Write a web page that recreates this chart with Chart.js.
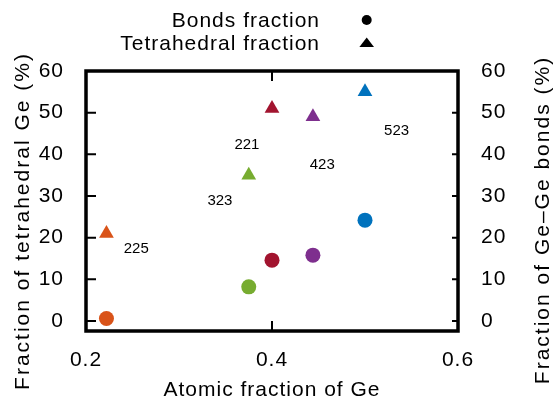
<!DOCTYPE html>
<html lang="en">

<head>
    <meta charset="UTF-8">
    <meta name="viewport" content="width=device-width, initial-scale=1.0">
    <title>Fração de Ge</title>
    <script src="https://cdn.jsdelivr.net/npm/chart.js"></script>
    <style>
        html, body { margin: 0; padding: 0; background: #fff; }
    </style>
</head>

<body>
    <canvas id="myChart" width="555" height="403"></canvas>
</body>
<script>
    // composições GeSbTe e valores
    const compositions = ['225', '323', '221', '423', '523']
    const geFraction = [0.222, 0.375, 0.4, 0.444, 0.5]
    const bondsFraction = [0.6, 8.2, 14.6, 15.8, 24.2]
    const tetraFraction = [21.0, 35.0, 51.0, 49.0, 55.0]
    // onde ficam os nomes das composições (em unidades dos eixos)
    const labelX = [0.254, 0.344, 0.373, 0.454, 0.534]
    const labelY = [17.3, 28.9, 42.3, 37.4, 45.7]
    const xTicks = [0.2, 0.4, 0.6]
    const yTicks = [0, 10, 20, 30, 40, 50, 60]

    const cores = ['#D95319', '#77AC30', '#A2142F', '#7E2F8E', '#0072BD']
    const fonte = "'Liberation Sans', Arial, sans-serif"

    function pontos(valores) {
        return geFraction.map((x, i) => ({ x: x, y: valores[i] }))
    }

    // moldura, ticks para dentro, rótulos, legenda e títulos dos eixos y
    const moldura = {
        id: 'moldura',
        beforeDraw(chart) {
            chart.ctx.letterSpacing = '1px'
        },
        afterDraw(chart) {
            const ctx = chart.ctx
            const a = chart.chartArea
            const sx = chart.scales.x
            const sy = chart.scales.y
            ctx.save()
            ctx.strokeStyle = '#000'
            ctx.fillStyle = '#000'

            ctx.lineWidth = 2
            ctx.beginPath()
            yTicks.forEach(v => {
                const py = sy.getPixelForValue(v)
                ctx.moveTo(a.left, py); ctx.lineTo(a.left + 10, py)
                ctx.moveTo(a.right, py); ctx.lineTo(a.right - 6, py)
            })
            xTicks.forEach(v => {
                const px = sx.getPixelForValue(v)
                ctx.moveTo(px, a.bottom); ctx.lineTo(px, a.bottom - 10)
                ctx.moveTo(px, a.top); ctx.lineTo(px, a.top + 10)
            })
            ctx.stroke()
            ctx.lineWidth = 3.5
            ctx.strokeRect(a.left, a.top, a.right - a.left, a.bottom - a.top)

            ctx.letterSpacing = '0px'
            ctx.font = '15px ' + fonte
            ctx.textAlign = 'center'
            ctx.textBaseline = 'middle'
            compositions.forEach((c, i) => {
                ctx.fillText(c, sx.getPixelForValue(labelX[i]), sy.getPixelForValue(labelY[i]))
            })

            // legenda
            ctx.letterSpacing = '1px'
            ctx.font = '21px ' + fonte
            ctx.textAlign = 'right'
            ctx.fillText(chart.data.datasets[0].label, 320, 21)
            ctx.fillText(chart.data.datasets[1].label, 320, 44)
            ctx.beginPath()
            ctx.arc(366.7, 20, 5, 0, Math.PI * 2)
            ctx.fill()
            ctx.beginPath()
            ctx.moveTo(366.7, 37.5)
            ctx.lineTo(374, 47)
            ctx.lineTo(359.4, 47)
            ctx.closePath()
            ctx.fill()

            // títulos y (lidos de baixo para cima, como no original)
            ctx.letterSpacing = '2px'
            ctx.textAlign = 'center'
            ctx.save()
            ctx.translate(23, 221)
            ctx.rotate(-Math.PI / 2)
            ctx.fillText('Fraction of tetrahedral Ge (%)', 0, 0)
            ctx.restore()
            ctx.save()
            ctx.translate(543, 220)
            ctx.rotate(-Math.PI / 2)
            ctx.fillText('Fraction of Ge\u2013Ge bonds (%)', 0, 0)
            ctx.restore()

            ctx.restore()
        }
    }

    function eixoY(posicao, largura, pad) {
        return {
            type: 'linear',
            position: posicao,
            min: -2.4,
            max: 60,
            afterBuildTicks: s => { s.ticks = yTicks.map(v => ({ value: v })) },
            afterFit: s => { s.width = largura },
            grid: { display: false },
            border: { display: false },
            ticks: { color: '#000', font: { family: fonte, size: 21 }, padding: pad, autoSkip: false }
        }
    }

    const config = {
        type: 'scatter',
        data: {
            datasets: [{
                label: 'Bonds fraction',
                data: pontos(bondsFraction),
                yAxisID: 'y2',
                pointStyle: 'circle',
                pointRadius: 7.5,
                pointHoverRadius: 7.5,
                backgroundColor: cores,
                borderWidth: 0
            }, {
                label: 'Tetrahedral fraction',
                data: pontos(tetraFraction),
                yAxisID: 'y',
                pointStyle: 'triangle',
                pointRadius: 8.5,
                pointHoverRadius: 8.5,
                backgroundColor: cores,
                borderWidth: 0
            }]
        },
        options: {
            responsive: false,
            animation: false,
            events: [],
            layout: { padding: { top: 71, left: 0, right: 0, bottom: 0 } },
            plugins: {
                legend: { display: false },
                tooltip: { enabled: false }
            },
            scales: {
                x: {
                    type: 'linear',
                    position: 'bottom',
                    min: 0.2,
                    max: 0.6,
                    afterBuildTicks: s => { s.ticks = xTicks.map(v => ({ value: v })) },
                    afterFit: s => { s.height = 72 },
                    grid: { display: false },
                    border: { display: false },
                    ticks: {
                        color: '#000',
                        font: { family: fonte, size: 21 },
                        padding: 9,
                        autoSkip: false,
                        callback: v => v.toFixed(1)
                    },
                    title: {
                        display: true,
                        text: 'Atomic fraction of Ge',
                        color: '#000',
                        font: { family: fonte, size: 21 },
                        padding: { top: 0, bottom: 0 }
                    }
                },
                y: eixoY('left', 86, 14),
                y2: eixoY('right', 97, 15)
            }
        },
        plugins: [moldura]
    }

    let myChart = new Chart(document.getElementById('myChart'), config)
</script>

</html>
